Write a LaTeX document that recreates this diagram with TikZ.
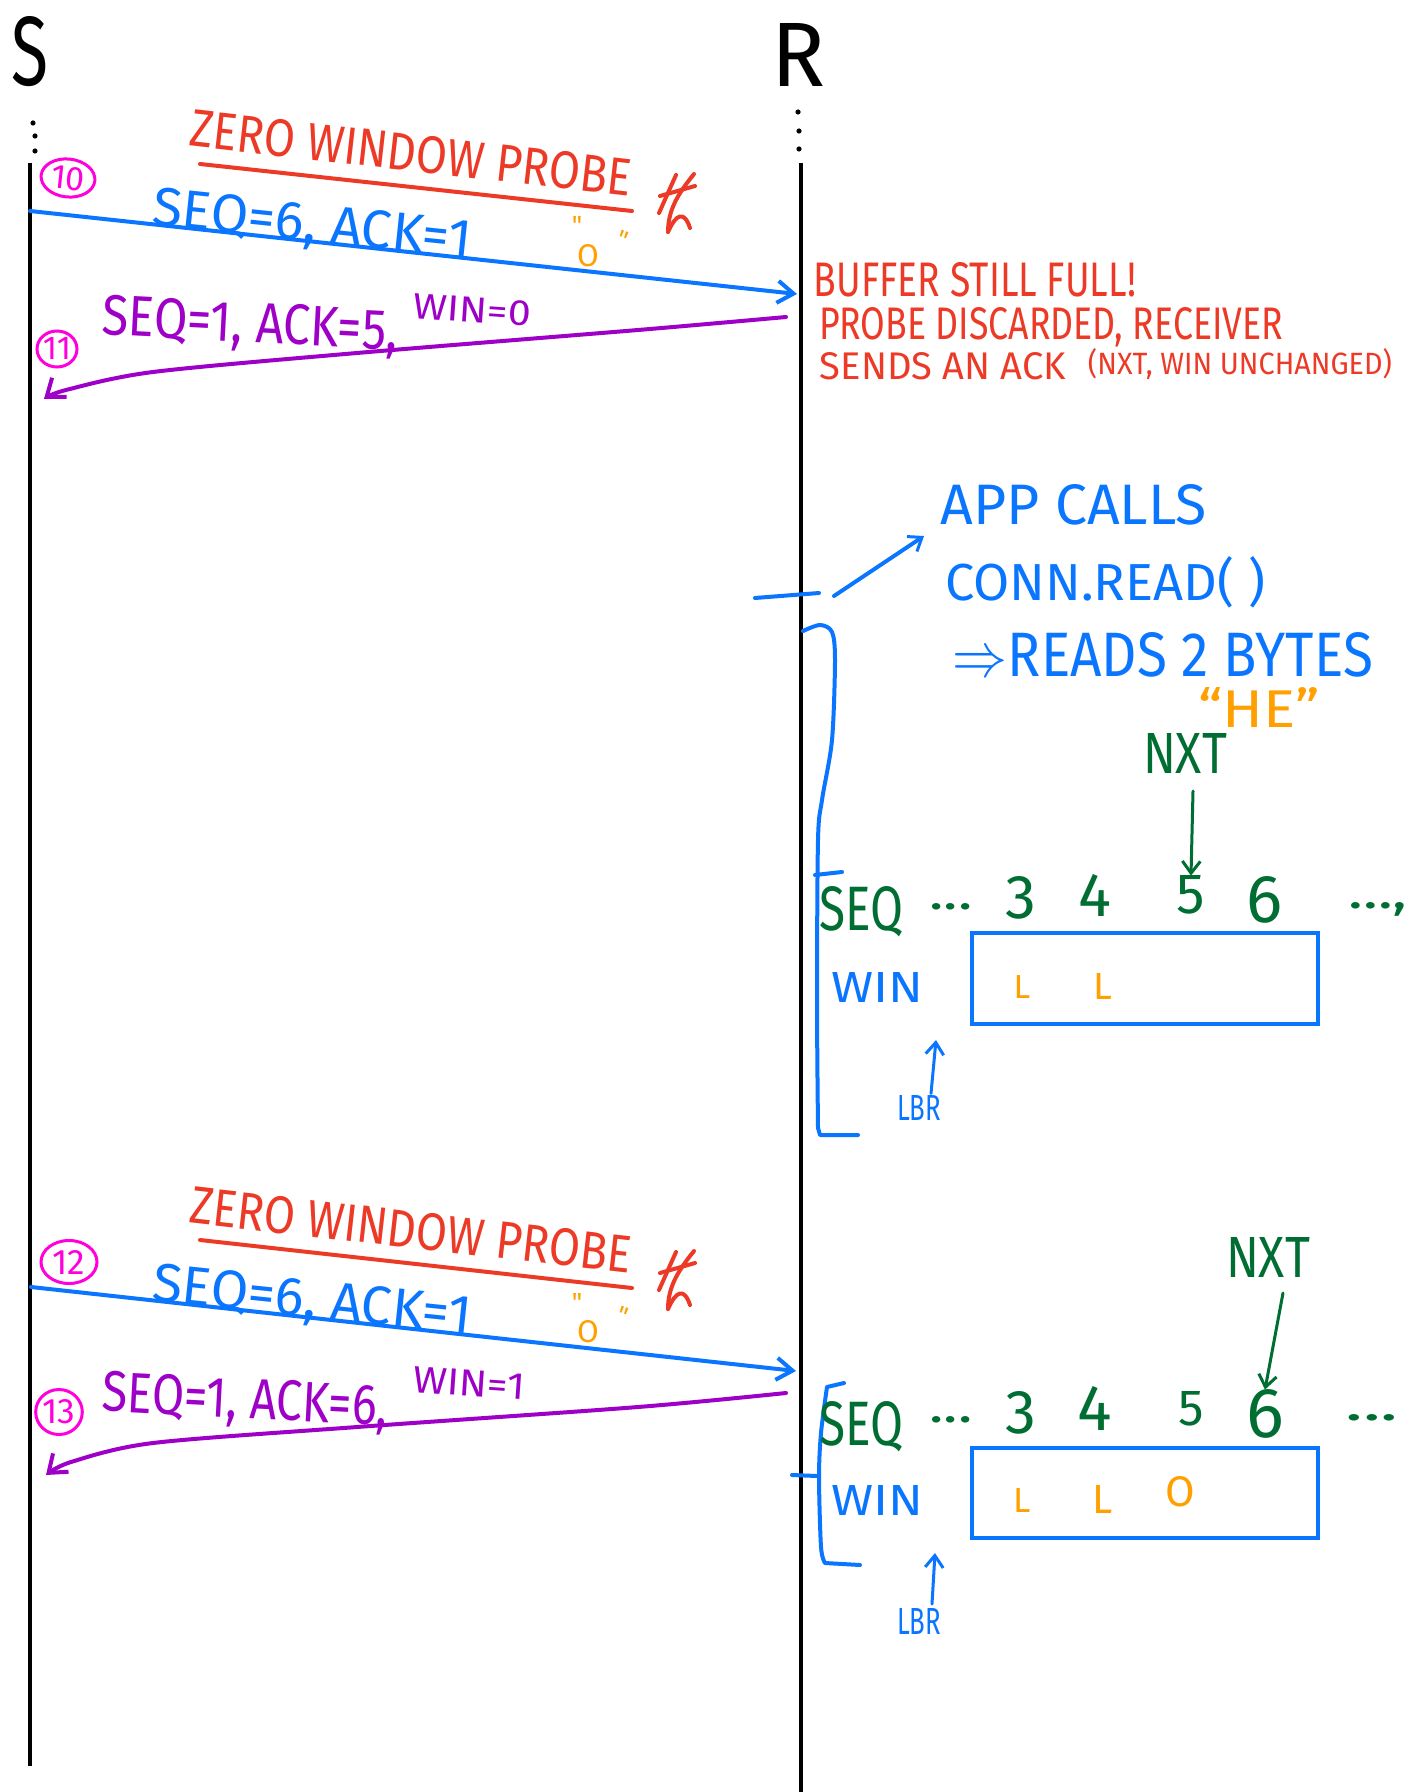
\documentclass[tikz,border=0pt]{standalone}
\usepackage{fontspec}
\usepackage{graphicx}
\newfontfamily\hand{Fira Sans}
\usetikzlibrary{arrows.meta,shapes.geometric}
\definecolor{pblue}{RGB}{10,118,255}
\definecolor{pred}{RGB}{236,58,38}
\definecolor{ppurple}{RGB}{158,0,200}
\definecolor{pmag}{RGB}{255,0,220}
\definecolor{porange}{RGB}{255,160,0}
\definecolor{pgreen}{RGB}{0,110,50}
\newcommand\fitTxt[3]{\resizebox{#1}{#2}{\hand #3}}
\tikzset{
  lifeline/.style={line width=1.8pt, black},
  pen/.style={line width=2pt, line cap=round, line join=round},
  txt/.style={inner sep=0pt, outer sep=0pt},
  msgblue/.style={pen, pblue, -{Straight Barb[length=8pt,width=11pt,line width=2pt]}},
  msgpurple/.style={pen, ppurple, -{Straight Barb[length=8pt,width=12pt,line width=2pt]}},
  smallarrow/.style={pen, line width=1.5pt, -{Straight Barb[length=6pt,width=9pt,line width=1.5pt]}},
  circ/.style={ellipse, draw=pmag, line width=1.5pt, inner sep=0pt, text=pmag},
  dotmark/.style={circle, fill=black, inner sep=0pt, minimum size=2.6pt},
  winbox/.style={draw=pblue, line width=2pt},
}
\begin{document}
\begin{tikzpicture}[x=0.5pt,y=-0.5pt]
\useasboundingbox (0,0) rectangle (1424,1792);
\fill[white] (0,0) rectangle (1424,1792);

% ---------- participants ----------
\node[txt] (S) at (30,52) {\fitTxt{18.5pt}{34.5pt}{S}};
\node[txt] (R) at (798,55) {\fitTxt{27pt}{31.5pt}{R}};
\coordinate (Stop) at (30,163);
\coordinate (Sbot) at (30,1766);
\coordinate (Rtop) at (801,163);
\coordinate (Rbot) at (801,1792);
\draw[lifeline] (Stop) -- (Sbot);
\draw[lifeline] (Rtop) -- (Rbot);
\node[dotmark] (sd1) at (33,123) {};
\node[dotmark] (sd2) at (35,136) {};
\node[dotmark] (sd3) at (35,151) {};
\node[dotmark] (rd1) at (798,112) {};
\node[dotmark] (rd2) at (799,131) {};
\node[dotmark] (rd3) at (799,149) {};

% ---------- message 10 ----------
\node[txt,text=pred,rotate=-6.5] (zwp1) at (411,153) {\fitTxt{222pt}{18.5pt}{ZERO WINDOW PROBE}};
\coordinate (ul1a) at (200,164);
\coordinate (ul1b) at (632,211);
\draw[pen,pred] (ul1a) -- (ul1b);
\begin{scope}[pen,pred]
  \draw (676,175) -- (659,213);
  \draw (694,174) .. controls (676,196) and (668,212) .. (668,232);
  \draw (660,196) -- (695,186);
  \draw (668,232) .. controls (676,214) and (684,210) .. (690,228);
\end{scope}
\node[txt,text=porange] (q1a) at (577,226) {\fitTxt{!}{9pt}{"}};
\node[txt,text=porange] (o1) at (588,256) {\fitTxt{!}{11pt}{O}};
\node[txt,text=porange,rotate=-20] (q1b) at (622,240) {\fitTxt{!}{9pt}{"}};
\node[txt,text=pblue,rotate=-6] (seq10) at (312,227) {\fitTxt{160pt}{19pt}{SEQ=6, ACK=1}};
\node[circ,minimum width=27pt,minimum height=19pt,rotate=-6] (c10) at (68,178) {\fitTxt{!}{11.5pt}{10}};
\coordinate (m10s) at (30,211);
\coordinate (m10e) at (797,294);
\draw[msgblue] (m10s) -- (m10e);

% ---------- message 11 ----------
\coordinate (m11s) at (786,317);
\coordinate (m11e) at (44,399);
\draw[msgpurple] plot[smooth] coordinates {(m11s) (638,330) (357,353) (153,372) (66,390) (m11e)};
\node[txt,text=ppurple,rotate=-3] (seq11) at (250,327) {\fitTxt{148pt}{20pt}{SEQ=1, ACK=5,}};
\node[txt,text=ppurple,rotate=-4] (win11) at (472,310) {\fitTxt{59pt}{12.5pt}{WIN=0}};
\node[circ,minimum width=20pt,minimum height=18pt] (c11) at (57,349) {\fitTxt{!}{11pt}{11}};

% ---------- receiver note ----------
\node[txt,text=pred] (n1) at (975,280) {\fitTxt{161pt}{17pt}{BUFFER STILL FULL!}};
\node[txt,text=pred] (n2) at (1051,327) {\fitTxt{232pt}{16pt}{PROBE DISCARDED, RECEIVER}};
\node[txt,text=pred] (n3) at (943,366) {\fitTxt{123pt}{13.5pt}{SENDS AN ACK}};
\node[txt,text=pred] (n4) at (1240,364) {\fitTxt{152pt}{13pt}{(NXT, WIN UNCHANGED)}};

% ---------- app read ----------
\node[txt,text=pblue] (app1) at (1074,505) {\fitTxt{133pt}{20pt}{APP CALLS}};
\node[txt,text=pblue] (app2) at (1105,582) {\fitTxt{160pt}{22pt}{CONN.READ( )}};
\node[txt,text=pblue] (app3) at (1163,655) {\fitTxt{210pt}{22pt}{$\Rightarrow$READS 2 BYTES}};
\node[txt,text=porange] (he) at (1259,707) {\fitTxt{61pt}{20pt}{\textquotedblleft HE\textquotedblright}};
\coordinate (tk1a) at (755,598);
\coordinate (tk1b) at (819,593);
\draw[pen,pblue] (tk1a) -- (tk1b);
\coordinate (ar1a) at (834,596);
\coordinate (ar1b) at (924,536);
\draw[smallarrow,pblue,line width=2pt] (ar1a) -- (ar1b);

% ---------- bracket 1 ----------
\draw[pen,pblue] plot[smooth] coordinates {(803,631) (820,625) (832,632) (835,660) (832,740) (822,800) (818,840) (817,1000) (818,1128)} -- (820,1135) -- (858,1135);
\draw[pen,pblue] (815,875) -- (842,872);

% ---------- window 1 ----------
\node[txt,text=pgreen] (nxt1) at (1185,753) {\fitTxt{42pt}{20pt}{NXT}};
\node[txt,text=pgreen] (seqA) at (861,912) {\fitTxt{42pt}{22pt}{SEQ}};
\node[txt,text=pgreen] (dlA) at (951,907) {\fitTxt{21.5pt}{3pt}{...}};
\node[txt,text=pgreen] (n3A) at (1021,898) {\fitTxt{!}{21pt}{3}};
\node[txt,text=pgreen] (n4A) at (1095,895) {\fitTxt{!}{21pt}{4}};
\node[txt,text=pgreen] (n5A) at (1191,895) {\fitTxt{!}{19pt}{5}};
\node[txt,text=pgreen] (n6A) at (1265,900) {\fitTxt{!}{23pt}{6}};
\node[txt,text=pgreen] (drA) at (1378,909) {\fitTxt{29.5pt}{3pt}{...,}};
\draw[smallarrow,pgreen] (nxt1.south) ++(8,18) -- (n5A.north);
\node[winbox,minimum width=173pt,minimum height=45.5pt,inner sep=0pt] (winA) at (1145,978.5) {};
\node[txt,text=pblue] (wlA) at (877,987) {\fitTxt{46pt}{15pt}{WIN}};
\node[txt,text=porange] (l1A) at (1022,987) {\fitTxt{!}{11.5pt}{L}};
\node[txt,text=porange] (l2A) at (1103,986) {\fitTxt{!}{13pt}{L}};
\node[txt,text=pblue] (lbrA) at (919,1108) {\fitTxt{22pt}{12.5pt}{LBR}};
\coordinate (lbrAt) at (936,1040);
\draw[smallarrow,pblue] (lbrA.north) ++(12,-2) -- (lbrAt);

% ---------- message 12 ----------
\node[txt,text=pred,rotate=-6.5] (zwp2) at (411,1230) {\fitTxt{222pt}{18.5pt}{ZERO WINDOW PROBE}};
\coordinate (ul2a) at (200,1240);
\coordinate (ul2b) at (632,1288);
\draw[pen,pred] (ul2a) -- (ul2b);
\begin{scope}[pen,pred,yshift=-538.5pt]
  \draw (676,175) -- (659,213);
  \draw (694,174) .. controls (676,196) and (668,212) .. (668,232);
  \draw (660,196) -- (695,186);
  \draw (668,232) .. controls (676,214) and (684,210) .. (690,228);
\end{scope}
\node[txt,text=porange] (q2a) at (577,1302) {\fitTxt{!}{9pt}{"}};
\node[txt,text=porange] (o2) at (588,1332) {\fitTxt{!}{11pt}{O}};
\node[txt,text=porange,rotate=-20] (q2b) at (622,1316) {\fitTxt{!}{9pt}{"}};
\node[txt,text=pblue,rotate=-6] (seq12) at (312,1303) {\fitTxt{160pt}{19pt}{SEQ=6, ACK=1}};
\node[circ,minimum width=28pt,minimum height=21.5pt] (c12) at (69,1262) {\fitTxt{!}{12pt}{12}};
\coordinate (m12s) at (31,1287);
\coordinate (m12e) at (796,1371);
\draw[msgblue] (m12s) -- (m12e);

% ---------- message 13 ----------
\coordinate (m13s) at (786,1393);
\coordinate (m13e) at (46,1475);
\draw[msgpurple] plot[smooth] coordinates {(m13s) (638,1407) (357,1427) (153,1443) (71,1462) (m13e)};
\node[txt,text=ppurple,rotate=-3] (seq13) at (245,1403) {\fitTxt{143pt}{20pt}{SEQ=1, ACK=6,}};
\node[txt,text=ppurple,rotate=-4] (win13) at (469,1383) {\fitTxt{56pt}{13pt}{WIN=1}};
\node[circ,minimum width=18pt,minimum height=22.5pt] (c13) at (59,1412) {\fitTxt{!}{12pt}{13}};

% ---------- bracket 2 ----------
\draw[pen,pblue] (844,1383) -- (827,1387) plot[smooth] coordinates {(827,1387) (821,1433) (819,1477) (821,1547) (825,1563)} -- (860,1565);
\draw[pen,pblue] (792,1475) -- (817,1476);

% ---------- window 2 ----------
\node[txt,text=pgreen] (nxt2) at (1268,1257) {\fitTxt{42pt}{20pt}{NXT}};
\node[txt,text=pgreen] (seqB) at (861,1427) {\fitTxt{42pt}{22pt}{SEQ}};
\node[txt,text=pgreen] (dlB) at (951,1420) {\fitTxt{21.5pt}{3pt}{...}};
\node[txt,text=pgreen] (n3B) at (1021,1413) {\fitTxt{!}{21pt}{3}};
\node[txt,text=pgreen] (n4B) at (1095,1408) {\fitTxt{!}{22pt}{4}};
\node[txt,text=pgreen] (n5B) at (1191,1409) {\fitTxt{!}{17pt}{5}};
\node[txt,text=pgreen] (n6B) at (1265,1414) {\fitTxt{!}{24pt}{6}};
\node[txt,text=pgreen] (drB) at (1372,1418) {\fitTxt{26.5pt}{3pt}{...}};
\draw[smallarrow,pgreen] (nxt2.south) ++(15,16) -- (n6B.north);
\node[winbox,minimum width=173pt,minimum height=45pt,inner sep=0pt] (winB) at (1145,1493) {};
\node[txt,text=pblue] (wlB) at (877,1500) {\fitTxt{46pt}{15pt}{WIN}};
\node[txt,text=porange] (l1B) at (1022,1500) {\fitTxt{!}{12pt}{L}};
\node[txt,text=porange] (l2B) at (1103,1499) {\fitTxt{!}{14pt}{L}};
\node[txt,text=porange] (oB) at (1180,1492) {\fitTxt{!}{15pt}{O}};
\node[txt,text=pblue] (lbrB) at (919,1621) {\fitTxt{22pt}{13pt}{LBR}};
\coordinate (lbrBt) at (935,1553);
\draw[smallarrow,pblue] (lbrB.north) ++(13,-4) -- (lbrBt);
\end{tikzpicture}
\end{document}
